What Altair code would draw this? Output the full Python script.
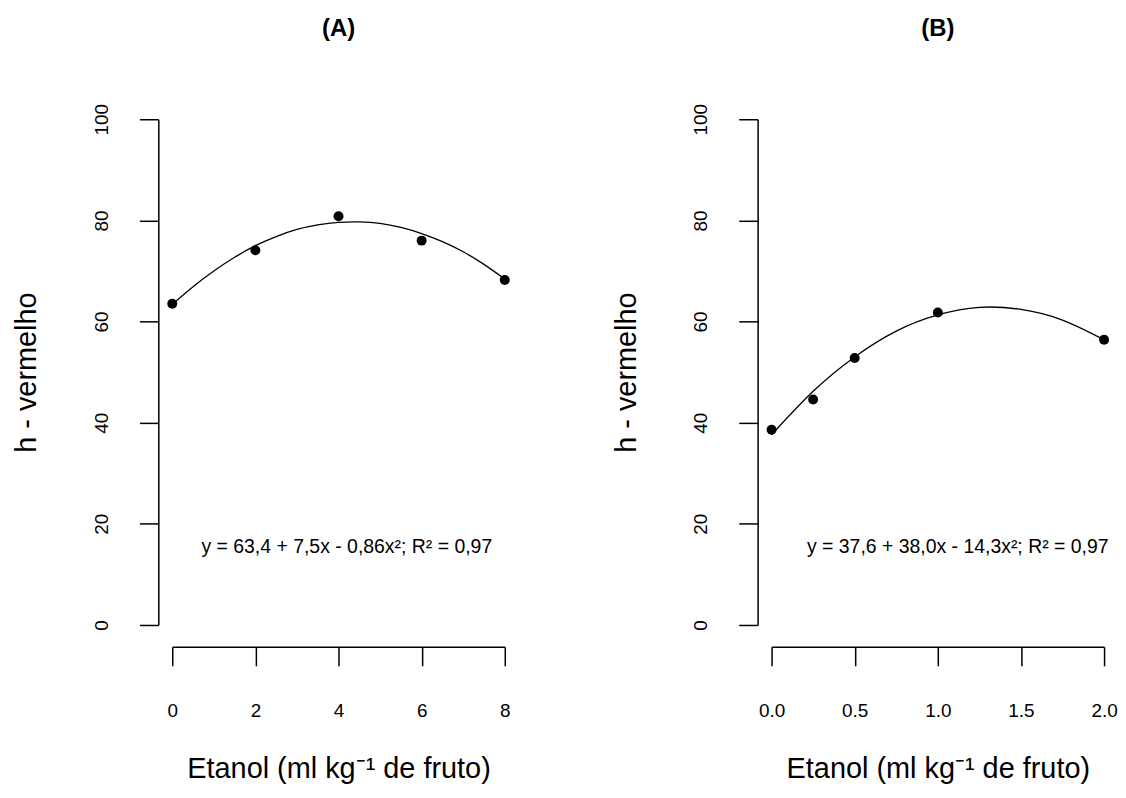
import altair as alt
import pandas as pd

# ---- Panel A data ----
a_x = [0, 2, 4, 6, 8]
a_y = [63.5, 74.1, 80.8, 76.0, 68.2]
a_curve_x = [0, 0.5, 1, 1.5, 2, 2.5, 3, 3.5, 4, 4.5, 5, 5.5, 6, 6.5, 7, 7.5, 8]
a_curve_y = [63.4, 66.9, 70.0, 72.7, 75.0, 76.8, 78.2, 79.1, 79.6, 79.7, 79.4,
             78.6, 77.4, 75.8, 73.8, 71.3, 68.4]
a_ticks = [0, 2, 4, 6, 8]
a_eq = "y = 63,4 + 7,5x - 0,86x²; R² = 0,97"

# ---- Panel B data ----
b_x = [0, 0.25, 0.5, 1.0, 2.0]
b_y = [38.6, 44.6, 52.8, 61.8, 56.4]
b_curve_x = [0, 0.25, 0.5, 0.75, 1.0, 1.25, 1.5, 1.75, 2.0]
b_curve_y = [37.6, 46.2, 53.0, 58.1, 61.3, 62.8, 62.4, 60.3, 56.4]
b_ticks = [0, 0.5, 1.0, 1.5, 2.0]
b_eq = "y = 37,6 + 38,0x - 14,3x²; R² = 0,97"

y_ticks = [0, 20, 40, 60, 80, 100]
x_title = "Etanol (ml kg⁻¹ de fruto)"
y_title = "h - vermelho"

FONT = "Liberation Sans"
W, H = 334, 508


def panel(px, py, cx, cy, ticks, fmt, xdom, eq, eq_x, title):
    pts = pd.DataFrame({"x": px, "y": py})
    crv = pd.DataFrame({"x": cx, "y": cy})
    eqd = pd.DataFrame({"x": [eq_x], "y": [15.5], "t": [eq]})
    xs = alt.Scale(domain=xdom, nice=False, zero=False)
    ys = alt.Scale(domain=[0, 100], nice=False)
    xaxis = alt.Axis(
        values=ticks, format=fmt, offset=22, tickSize=19, tickWidth=1.5,
        domainWidth=1.5, domainColor="black", tickColor="black",
        labelFontSize=19, labelFont=FONT, labelColor="black", labelPadding=36,
        labelFlush=False, grid=False,
        title=x_title, titleFont=FONT, titleFontSize=29, titleFontWeight="normal",
        titleColor="black", titleY=122, titleBaseline="middle",
    )
    yaxis = alt.Axis(
        values=y_ticks, offset=14, tickSize=19, tickWidth=1.5,
        domainWidth=1.5, domainColor="black", tickColor="black",
        labelFontSize=19, labelFont=FONT, labelColor="black", labelPadding=28,
        labelAngle=270, labelAlign="center", labelBaseline="bottom",
        labelFlush=False, grid=False,
        title=y_title, titleFont=FONT, titleFontSize=29, titleFontWeight="normal",
        titleColor="black", titleAngle=270, titleX=-132, titleY=254,
        titleAlign="center", titleBaseline="middle",
    )
    line = alt.Chart(crv).mark_line(color="black", strokeWidth=1.3, interpolate="natural").encode(
        x=alt.X("x:Q", scale=xs, axis=xaxis),
        y=alt.Y("y:Q", scale=ys, axis=yaxis),
    )
    dots = alt.Chart(pts).mark_circle(color="black", opacity=1, size=100).encode(
        x=alt.X("x:Q", scale=xs),
        y=alt.Y("y:Q", scale=ys),
    )
    txt = alt.Chart(eqd).mark_text(font=FONT, fontSize=19.5, color="black").encode(
        x=alt.X("x:Q", scale=xs),
        y=alt.Y("y:Q", scale=ys),
        text="t:N",
    )
    return alt.layer(line, dots, txt).properties(
        width=W, height=H,
        title=alt.TitleParams(title, fontSize=24, fontWeight="bold",
                              font="Liberation Sans Narrow, Liberation Sans",
                              color="black", offset=63, anchor="middle"),
    )


pa = panel(a_x, a_y, a_curve_x, a_curve_y, a_ticks, "d", [0, 8], a_eq, 4.2, "(A)")
pb = panel(b_x, b_y, b_curve_x, b_curve_y, b_ticks, ".1f", [0, 2], b_eq, 1.12, "(B)")

chart = alt.hconcat(pa, pb, spacing=102).resolve_scale(
    x="independent", y="independent"
).properties(
    padding={"left": 5, "top": 7, "right": 0, "bottom": 0},
    background="white",
).configure_view(strokeWidth=0, stroke="transparent")

chart.save("out.html", embed_options={"renderer": "svg", "actions": False})
